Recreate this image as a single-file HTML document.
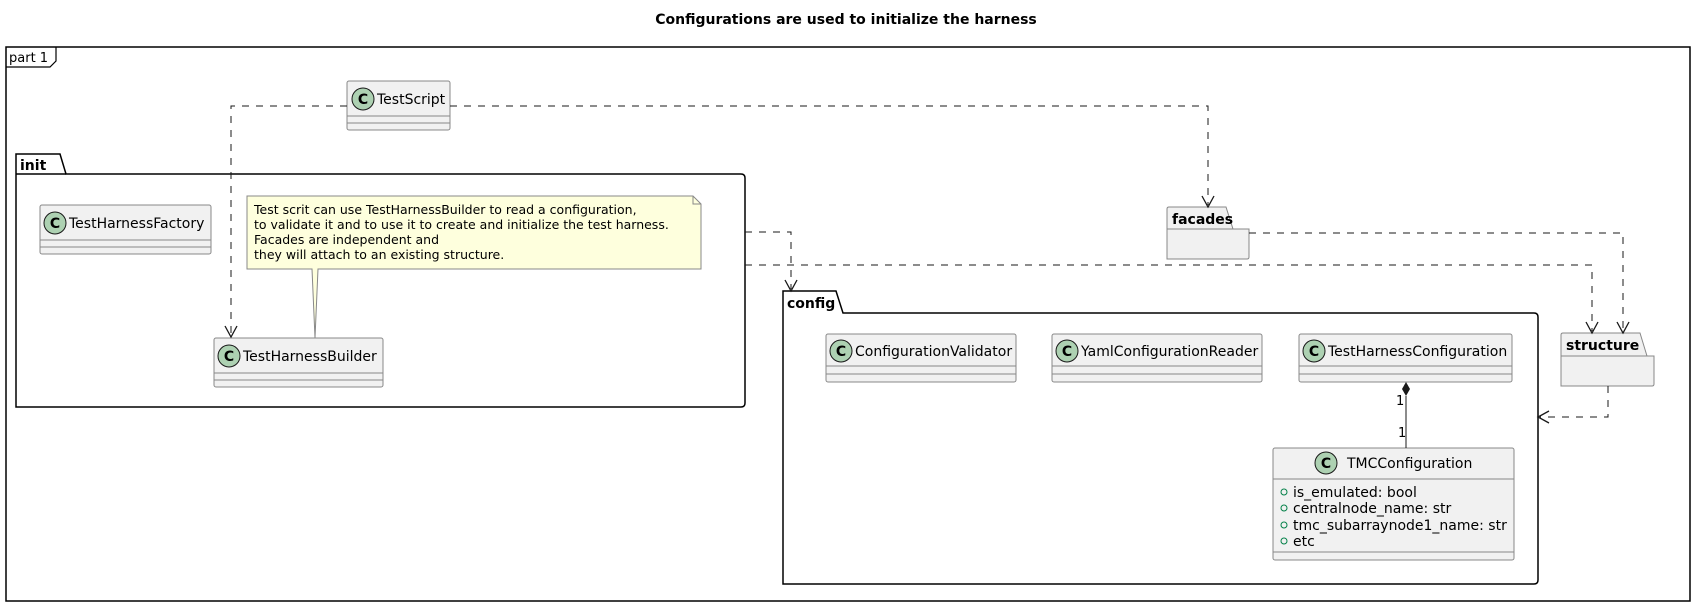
<!DOCTYPE html>
<html><head><meta charset="utf-8"><style>
html,body{margin:0;padding:0;background:#fff}
svg{display:block}
text{font-family:"DejaVu Sans","Liberation Sans",sans-serif;fill:#000}
.cls{fill:#F1F1F1;stroke:#888;stroke-width:1}
.sep{stroke:#888;stroke-width:1}
.dash{fill:none;stroke:#181818;stroke-width:1;stroke-dasharray:7,7}
.pk{fill:none;stroke:#000;stroke-width:1.5}
.pkg{fill:#F1F1F1;stroke:#888;stroke-width:1}
.arr{fill:none;stroke:#181818;stroke-width:1.3}
</style></head><body>
<svg width="1692" height="605" viewBox="0 0 1692 605" xmlns="http://www.w3.org/2000/svg">
<defs>
<g id="c"><circle cx="0" cy="0" r="11" fill="#ADD1B2" stroke="#181818" stroke-width="1"/><text x="0" y="5" font-size="14" font-weight="bold" text-anchor="middle">C</text></g>
</defs>
<text x="846" y="24" font-size="14" font-weight="bold" text-anchor="middle">Configurations are used to initialize the harness</text>
<!-- frame -->
<rect x="6" y="47" width="1684" height="554" fill="none" stroke="#000" stroke-width="1.5"/>
<path d="M6 67 H50 L56 61 V47" fill="none" stroke="#000" stroke-width="1.2"/>
<text x="9" y="62" font-size="13">part 1</text>

<!-- init package -->
<path class="pk" d="M16 174 V154 H60 L66 174 H741 Q745 174 745 178 V403 Q745 407 741 407 H16 Z"/>
<line x1="16" y1="174" x2="66" y2="174" stroke="#000" stroke-width="1.5"/>
<text x="20" y="170" font-size="14" font-weight="bold">init</text>

<!-- config package -->
<path class="pk" d="M783 313 V291 H836 L843 313 H1534 Q1538 313 1538 317 V580 Q1538 584 1534 584 H783 Z"/>
<text x="787" y="308" font-size="14" font-weight="bold">config</text>

<!-- facades -->
<path class="pkg" d="M1167 259 V209 Q1167 207 1169 207 H1226 L1233 229 H1249 V257 Q1249 259 1247 259 Z"/>
<line x1="1167" y1="229" x2="1233" y2="229" stroke="#888"/>
<text x="1172" y="224" font-size="14" font-weight="bold">facades</text>

<!-- structure -->
<path class="pkg" d="M1561 386 V335 Q1561 333 1563 333 H1640 L1647 356 H1654 V384 Q1654 386 1652 386 Z"/>
<line x1="1561" y1="356" x2="1647" y2="356" stroke="#888"/>
<text x="1566" y="350" font-size="14" font-weight="bold">structure</text>

<!-- TestScript -->
<rect class="cls" x="347" y="81" width="103" height="49" rx="2"/>
<line class="sep" x1="347" y1="116" x2="450" y2="116"/><line class="sep" x1="347" y1="123" x2="450" y2="123"/>
<use href="#c" x="363" y="99"/>
<text x="377" y="104" font-size="14">TestScript</text>

<!-- TestHarnessFactory -->
<rect class="cls" x="40" y="205" width="171" height="49" rx="2"/>
<line class="sep" x1="40" y1="240" x2="211" y2="240"/><line class="sep" x1="40" y1="247" x2="211" y2="247"/>
<use href="#c" x="55" y="223"/>
<text x="69" y="228" font-size="14">TestHarnessFactory</text>

<!-- note -->
<path d="M247 196 H693 L701 204 V269 H318 L315 338 L312 269 H247 Z" fill="#FEFFDD" stroke="#888" stroke-width="1"/>
<path d="M693 196 V204 H701" fill="none" stroke="#888"/>
<text font-size="12.5"><tspan x="254" y="214">Test scrit can use TestHarnessBuilder to read a configuration,</tspan><tspan x="254" y="229">to validate it and to use it to create and initialize the test harness.</tspan><tspan x="254" y="244">Facades are independent and</tspan><tspan x="254" y="259">they will attach to an existing structure.</tspan></text>

<!-- TestHarnessBuilder -->
<rect class="cls" x="214" y="338" width="169" height="49" rx="2"/>
<line class="sep" x1="214" y1="373" x2="383" y2="373"/><line class="sep" x1="214" y1="380" x2="383" y2="380"/>
<use href="#c" x="229" y="356"/>
<text x="243" y="361" font-size="14">TestHarnessBuilder</text>

<!-- ConfigurationValidator -->
<rect class="cls" x="826" y="334" width="190" height="48" rx="2"/>
<line class="sep" x1="826" y1="366" x2="1016" y2="366"/><line class="sep" x1="826" y1="374" x2="1016" y2="374"/>
<use href="#c" x="841" y="351"/>
<text x="855" y="356" font-size="14">ConfigurationValidator</text>

<!-- YamlConfigurationReader -->
<rect class="cls" x="1052" y="334" width="210" height="48" rx="2"/>
<line class="sep" x1="1052" y1="366" x2="1262" y2="366"/><line class="sep" x1="1052" y1="374" x2="1262" y2="374"/>
<use href="#c" x="1067" y="351"/>
<text x="1081" y="356" font-size="14">YamlConfigurationReader</text>

<!-- TestHarnessConfiguration -->
<rect class="cls" x="1299" y="334" width="213" height="48" rx="2"/>
<line class="sep" x1="1299" y1="366" x2="1512" y2="366"/><line class="sep" x1="1299" y1="374" x2="1512" y2="374"/>
<use href="#c" x="1314" y="351"/>
<text x="1328" y="356" font-size="14">TestHarnessConfiguration</text>

<!-- TMCConfiguration -->
<rect class="cls" x="1273" y="448" width="241" height="112" rx="2"/>
<line class="sep" x1="1273" y1="479" x2="1514" y2="479"/><line class="sep" x1="1273" y1="552" x2="1514" y2="552"/>
<use href="#c" x="1326" y="463"/>
<text x="1347" y="468" font-size="14">TMCConfiguration</text>
<g font-size="14">
<circle cx="1284" cy="492" r="3" fill="none" stroke="#038048"/><text x="1293" y="497">is_emulated: bool</text>
<circle cx="1284" cy="508" r="3" fill="none" stroke="#038048"/><text x="1293" y="513">centralnode_name: str</text>
<circle cx="1284" cy="525" r="3" fill="none" stroke="#038048"/><text x="1293" y="530">tmc_subarraynode1_name: str</text>
<circle cx="1284" cy="541" r="3" fill="none" stroke="#038048"/><text x="1293" y="546">etc</text>
</g>
<!-- composition -->
<line x1="1406" y1="396" x2="1406" y2="448" stroke="#181818"/>
<path d="M1406 382 L1410 389 L1406 396 L1402 389 Z" fill="#181818"/>
<text x="1396" y="405" font-size="13">1</text>
<text x="1398" y="437" font-size="13">1</text>

<!-- connectors -->
<path class="dash" d="M347 106 H231 V336"/>
<path class="arr" d="M225 326 L231 337 L237 326"/>
<path class="dash" d="M450 106 H1208 V205"/>
<path class="arr" d="M1202 196 L1208 207 L1214 196"/>
<path class="dash" d="M745 232 H791 V289"/>
<path class="arr" d="M785 280 L791 291 L797 280"/>
<path class="dash" d="M745 265 H1592 V331"/>
<path class="arr" d="M1586 322 L1592 333 L1598 322"/>
<path class="dash" d="M1249 233 H1623 V331"/>
<path class="arr" d="M1617 322 L1623 333 L1629 322"/>
<path class="dash" d="M1608 386 V417 H1540"/>
<path class="arr" d="M1549 411 L1538 417 L1549 423"/>
</svg>
</body></html>
